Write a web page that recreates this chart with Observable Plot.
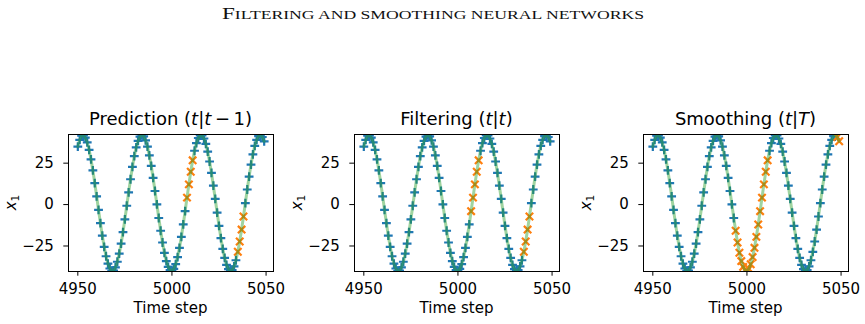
<!DOCTYPE html>
<html><head><meta charset="utf-8">
<script src="https://cdn.jsdelivr.net/npm/d3@7"></script>
<script src="https://cdn.jsdelivr.net/npm/@observablehq/plot@0.6"></script>
<style>
html,body{margin:0;padding:0;background:#fff;}
#root{position:relative;width:865px;height:324px;overflow:hidden;background:#fff;}
#root .pan{position:absolute;top:100px;}
#overlay{position:absolute;left:0;top:0;}
</style></head><body><div id="root"></div>
<script>
// ---- data ----
const steps = d3.range(4950, 5050);
const truth = [
  35.0, 39.0, 41.6, 41.8, 40.4, 37.5, 33.0, 27.3, 20.6, 13.0,
  5.0, -3.2, -11.2, -18.8, -25.5, -31.2, -35.7, -38.6, -40.0, -39.8,
  -37.9, -34.5, -29.6, -23.6, -16.6, -8.9, -0.7, 7.4, 15.3, 22.7,
  29.2, 34.5, 38.5, 41.0, 41.9, 41.2, 38.8, 35.0, 29.7, 23.4,
  16.1, 8.2, 0.1, -8.1, -15.8, -22.9, -29.1, -34.1, -37.6, -39.6,
  -40.0, -38.8, -36.0, -31.7, -26.1, -19.5, -12.0, -4.0, 4.2, 12.2,
  19.8, 26.7, 32.5, 37.1, 40.2, 41.7, 41.7, 39.9, 36.7, 32.0,
  26.0, 19.1, 11.4, 3.4, -4.8, -12.8, -20.2, -26.8, -32.2, -36.4,
  -39.0, -40.1, -39.5, -37.3, -33.6, -28.5, -22.3, -15.1, -7.2, 0.9,
  9.1, 16.9, 24.1, 30.3, 35.4, 39.1, 41.3, 41.9, 40.8, 38.2
];
const predictionOrange = [5008, 5009, 5010, 5011, 5035, 5036, 5037, 5038];
const filteringOrange = [5007, 5008, 5009, 5010, 5011, 5035, 5036, 5037, 5038];
const smoothingOrange = [4994, 4995, 4996, 4997, 4998, 4999, 5000, 5001, 5002, 5003,
  5004, 5005, 5006, 5007, 5008, 5009, 5010, 5011, 5048, 5049];
const panelNames = ["Prediction", "Filtering", "Smoothing"];
const panelConds = [["t", "t", "\u2009\u2212\u20091"], ["t", "t", ""], ["t", "T", ""]];
const xTicks = [4950, 5000, 5050];
const yTicks = [-25, 0, 25];
const headerText = "Filtering and smoothing neural networks";
const xLabel = "Time step";

// ---- layout ----
const panelLeft = [0, 286, 575];
const mL = 68, mR = 17, mT = 34, mB = 53, PW = 290, PH = 224;

const plusSym = {draw(ctx, size) { const r = Math.sqrt(size / Math.PI);
  ctx.moveTo(-r, 0); ctx.lineTo(r, 0); ctx.moveTo(0, -r); ctx.lineTo(0, r); }};
const timesSym = {draw(ctx, size) { const r = Math.sqrt(size / Math.PI);
  ctx.moveTo(-r, -r); ctx.lineTo(r, r); ctx.moveTo(-r, r); ctx.lineTo(r, -r); }};

const root = document.getElementById("root");
const series = steps.map((t, i) => ({t, v: truth[i]}));
const orangeSets = [predictionOrange, filteringOrange, smoothingOrange];

orangeSets.forEach((orange, k) => {
  const oset = new Set(orange);
  const blue = series.filter(d => !oset.has(d.t));
  const oran = series.filter(d => oset.has(d.t));
  const chart = Plot.plot({
    width: PW, height: PH,
    marginLeft: mL, marginRight: mR, marginTop: mT, marginBottom: mB,
    style: {fontFamily: "DejaVu Sans", fontSize: "15px", color: "black", background: "transparent"},
    x: {domain: [4945.05, 5053.95]},
    y: {domain: [-40.4, 42.3]},
    marks: [
      Plot.axisX({ticks: xTicks, tickFormat: d3.format("d"), tickSize: 4.7, tickPadding: 7.5, label: null}),
      Plot.axisY({ticks: yTicks, tickFormat: d3.format("d"), tickSize: 4.7, tickPadding: 10, label: null}),
      Plot.dot(blue, {x: "t", y: "v", symbol: plusSym, r: 4.4, stroke: "#1f77b4", fill: "none", strokeWidth: 2.2, clip: true}),
      Plot.dot(oran, {x: "t", y: "v", symbol: timesSym, r: 3.7, stroke: "#ff7f0e", fill: "none", strokeWidth: 2.2, clip: true}),
      Plot.line(series, {x: "t", y: "v", stroke: "#2ca02c", strokeOpacity: 0.45, strokeWidth: 3, clip: true}),
      Plot.frame({stroke: "black", strokeWidth: 1})
    ]
  });
  const div = document.createElement("div");
  div.className = "pan";
  div.style.left = panelLeft[k] + "px";
  div.appendChild(chart);
  root.appendChild(div);
});

// ---- overlay text ----
const svg = d3.select(root).append("svg").attr("id", "overlay")
  .attr("width", 865).attr("height", 324);
const hdr = svg.append("text").attr("x", 433).attr("y", 18.5).attr("text-anchor", "middle")
  .attr("textLength", 422).attr("lengthAdjust", "spacingAndGlyphs")
  .style("font-family", "Liberation Serif").style("fill", "#111");
hdr.append("tspan").style("font-size", "16.8px").text(headerText[0].toUpperCase());
hdr.append("tspan").style("font-size", "12.8px").text(headerText.slice(1).toUpperCase());

panelNames.forEach((name, k) => {
  const fx = panelLeft[k] + mL;
  const cx = fx + (PW - mL - mR) / 2;
  const t = svg.append("text").attr("x", cx).attr("y", 124.5).attr("text-anchor", "middle")
    .style("font-family", "DejaVu Sans").style("font-size", "18px");
  const c = panelConds[k];
  t.append("tspan").text(name + " (");
  t.append("tspan").style("font-style", "italic").text(c[0]);
  t.append("tspan").text("|");
  t.append("tspan").style("font-style", "italic").text(c[1]);
  t.append("tspan").text(c[2] + ")");
  svg.append("text").attr("x", cx).attr("y", 312.5).attr("text-anchor", "middle")
    .style("font-family", "DejaVu Sans").style("font-size", "15px").text(xLabel);
  const yl = svg.append("text").attr("transform", `translate(${fx - 52},${100 + mT + (PH - mT - mB) / 2}) rotate(-90)`)
    .attr("text-anchor", "middle")
    .style("font-family", "DejaVu Sans").style("font-size", "15px");
  yl.append("tspan").style("font-style", "italic").text("x");
  yl.append("tspan").attr("dy", 3).style("font-size", "10.5px").text("1");
});
</script>
</body></html>
